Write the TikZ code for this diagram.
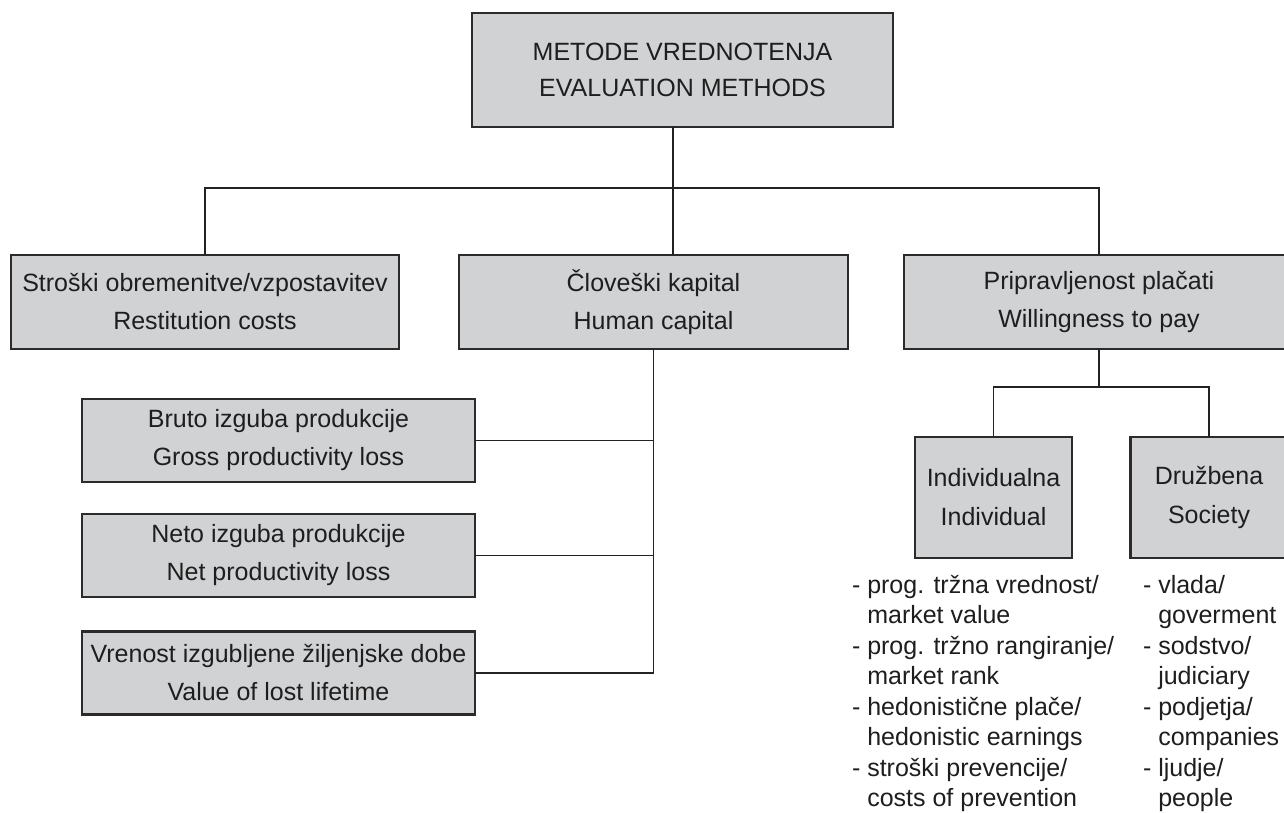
\documentclass[tikz,border=0pt]{standalone}
\usepackage{fontspec}
\setmainfont{Liberation Sans}
\definecolor{boxfill}{HTML}{D1D2D4}
\definecolor{boxline}{HTML}{2B2B2B}
\definecolor{lineclr}{HTML}{222222}
\definecolor{txt}{HTML}{1E1E1E}
\begin{document}
\begin{tikzpicture}[x=1pt,y=-1pt,
  box/.style={draw=boxline, fill=boxfill, line width=2.2pt, inner sep=0pt, outer sep=0pt,
    align=center, text=txt, font=\fontsize{25}{38}\selectfont, anchor=center},
  conn/.style={draw=lineclr, line width=1.6pt},
  listtxt/.style={inner sep=0pt, outer sep=0pt, align=left, anchor=north west,
    text=txt, font=\fontsize{25}{30.5}\selectfont}]
\path[use as bounding box, fill=white] (0,0) rectangle (1284,813);
\clip (0,0) rectangle (1284,813);

% boxes
\node[box, minimum width=421pt, minimum height=114pt, font=\fontsize{25}{36}\selectfont]
  (top) at (682.5,70) {METODE VREDNOTENJA\\EVALUATION METHODS};
\node[box, minimum width=388pt, minimum height=94pt]
  (rest) at (205,302) {Stroški obremenitve/vzpostavitev\\Restitution costs};
\node[box, minimum width=389pt, minimum height=94pt]
  (human) at (653.5,302) {Človeški kapital\\Human capital};
\node[box, minimum width=390pt, minimum height=94pt]
  (wtp) at (1099,302) {Pripravljenost plačati\\Willingness to pay};
\node[box, minimum width=393pt, minimum height=83pt]
  (gross) at (278.5,440.5) {Bruto izguba produkcije\\Gross productivity loss};
\node[box, minimum width=393pt, minimum height=83pt]
  (net) at (278.5,555.5) {Neto izguba produkcije\\Net productivity loss};
\node[box, minimum width=393pt, minimum height=83pt]
  (life) at (278.5,673) {Vrenost izgubljene žiljenjske dobe\\Value of lost lifetime};
\node[box, minimum width=157pt, minimum height=121pt, font=\fontsize{25}{39}\selectfont]
  (ind) at (993.5,497.5) {Individualna\\Individual};
\node[box, minimum width=157pt, minimum height=121pt, font=\fontsize{25}{39}\selectfont]
  (soc) at (1209,497.5) {Družbena\\Society};

% connectors
\coordinate (j0) at (673,188);
\draw[conn] (top.south -| j0) -- (j0) -- (human.north -| j0);
\draw[conn] (rest.north) |- (j0) -| (wtp.north);
\draw[conn] (human.south) -- (life.east -| human.south);
\draw[conn] (gross.east) -- (gross.east -| human.south);
\draw[conn] (net.east) -- (net.east -| human.south);
\draw[conn] (life.east) -- (life.east -| human.south);
\coordinate (j1) at (1099,387);
\draw[conn] (wtp.south) -- (j1);
\draw[conn] (ind.north) |- (j1) -| (soc.north);

% lists
\node[listtxt] (indlist) at (852,575) {- prog. tržna vrednost/\\\phantom{- }market value\\- prog. tržno rangiranje/\\\phantom{- }market rank\\- hedonistične plače/\\\phantom{- }hedonistic earnings\\- stroški prevencije/\\\phantom{- }costs of prevention};
\node[listtxt] (soclist) at (1143,575) {- vlada/\\\phantom{- }goverment\\- sodstvo/\\\phantom{- }judiciary\\- podjetja/\\\phantom{- }companies\\- ljudje/\\\phantom{- }people};
\end{tikzpicture}
\end{document}
